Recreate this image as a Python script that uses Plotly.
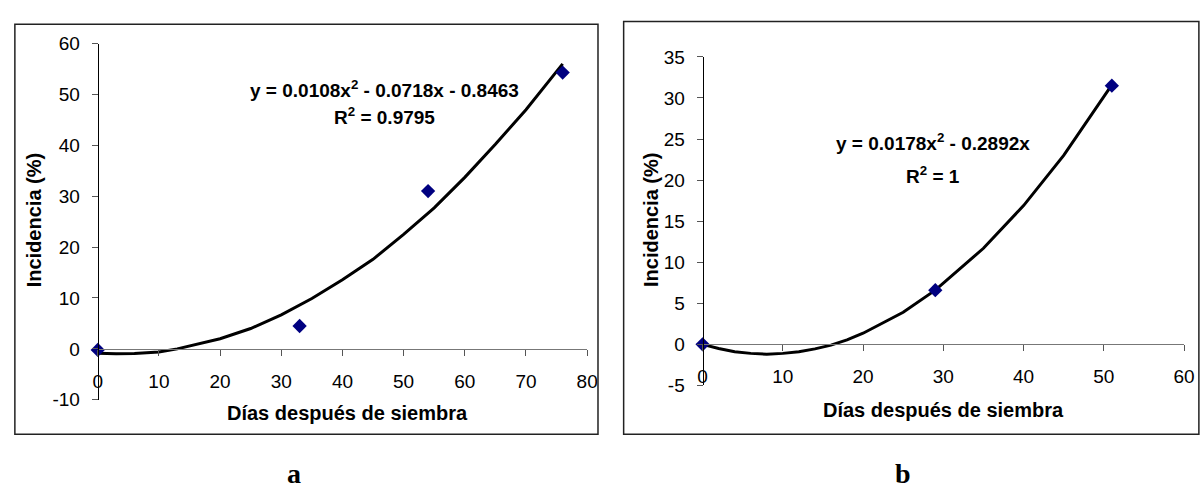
import plotly.graph_objects as go

W, H = 1201, 496

# ---- data ----
a_days = [0, 33, 54, 76]
a_incid = [-0.2, 4.5, 31.0, 54.3]
a_trend_x = [0, 3, 6, 10, 13, 16, 20, 25, 30, 35, 40, 45, 50, 55, 60, 65, 70, 76]
a_trend_y = [-0.85, -0.95, -0.9, -0.6, 0.0, 0.8, 2.0, 4.0, 6.7, 9.9, 13.6, 17.6, 22.5, 27.7, 33.7, 40.2, 47.0, 56.0]

b_days = [0, 29, 51]
b_incid = [0.0, 6.6, 31.5]
b_trend_x = [0, 2, 4, 6, 8, 10, 12, 14, 16, 18, 20, 25, 29, 35, 40, 45, 51]
b_trend_y = [0.0, -0.5, -0.9, -1.1, -1.2, -1.1, -0.9, -0.55, -0.1, 0.55, 1.35, 3.9, 6.6, 11.7, 16.9, 23.0, 31.6]

a_ticks_x = [0, 10, 20, 30, 40, 50, 60, 70, 80]
a_ticks_y = [-10, 0, 10, 20, 30, 40, 50, 60]
b_ticks_x = [0, 10, 20, 30, 40, 50, 60]
b_ticks_y = [-5, 0, 5, 10, 15, 20, 25, 30, 35]

eq_a = "<b>y = 0.0108x<sup>2</sup> - 0.0718x - 0.8463</b>"
r2_a = "<b>R<sup>2</sup> = 0.9795</b>"
eq_b = "<b>y = 0.0178x<sup>2</sup> - 0.2892x</b>"
r2_b = "<b>R<sup>2</sup> = 1</b>"
xtitle = "<b>Días después de siembra</b>"
ytitle = "<b>Incidencia (%)</b>"

FONT = "Liberation Sans, Arial, sans-serif"
SERIF = "Liberation Serif, Times New Roman, serif"
NAVY = "#000080"


def px(x):
    return x / W


def py(y):
    return 1 - y / H


def labels(vals):
    return [str(v).replace("−", "-") for v in vals]


fig = go.Figure()

fig.add_trace(go.Scatter(x=a_trend_x, y=a_trend_y, mode="lines",
                         line=dict(color="black", width=3),
                         xaxis="x", yaxis="y", showlegend=False, cliponaxis=False))
fig.add_trace(go.Scatter(x=a_days, y=a_incid, mode="markers",
                         marker=dict(symbol="diamond", size=11, color=NAVY),
                         xaxis="x", yaxis="y", showlegend=False, cliponaxis=False))
fig.add_trace(go.Scatter(x=b_trend_x, y=b_trend_y, mode="lines",
                         line=dict(color="black", width=3),
                         xaxis="x2", yaxis="y2", showlegend=False, cliponaxis=False))
fig.add_trace(go.Scatter(x=b_days, y=b_incid, mode="markers",
                         marker=dict(symbol="diamond", size=11, color=NAVY),
                         xaxis="x2", yaxis="y2", showlegend=False, cliponaxis=False))

# geometry (pixels)
a_x0, a_x1 = 94, 590
a_ytop, a_ybot = 35, 407
b_x0, b_x1 = 707, 1195
b_ytop, b_ybot = 49, 392

tickfont = dict(family=FONT, size=19, color="black")
common_x = dict(showgrid=False, zeroline=False, showline=True, linecolor="#777777",
                linewidth=1, ticks="outside", ticklen=6, tickcolor="#555555",
                tickfont=tickfont, ticklabelstandoff=9, fixedrange=True)
common_y = dict(showgrid=False, zeroline=False, showline=True, linecolor="black",
                linewidth=1, ticks="outside", ticklen=6, tickcolor="#555555",
                tickfont=tickfont, ticklabelstandoff=8, fixedrange=True)

a_dom_y = [py(a_ybot), py(a_ytop)]
b_dom_y = [py(b_ybot), py(b_ytop)]
a_zero = a_dom_y[0] + (0 - (-10)) / 70 * (a_dom_y[1] - a_dom_y[0])
b_zero = b_dom_y[0] + (0 - (-5)) / 40 * (b_dom_y[1] - b_dom_y[0])

fig.update_layout(
    width=W, height=H,
    margin=dict(l=0, r=0, t=0, b=0),
    paper_bgcolor="white", plot_bgcolor="rgba(0,0,0,0)",
    font=dict(family=FONT, color="black"),
    showlegend=False,
    xaxis=dict(domain=[px(a_x0), px(a_x1)], range=[0, 80], tickvals=a_ticks_x,
               ticktext=labels(a_ticks_x), anchor="free", position=a_zero, **common_x),
    yaxis=dict(domain=a_dom_y, range=[-10, 60], tickvals=a_ticks_y,
               ticktext=labels(a_ticks_y), anchor="free", position=px(a_x0), **common_y),
    xaxis2=dict(domain=[px(b_x0), px(b_x1)], range=[0, 60], tickvals=b_ticks_x,
                ticktext=labels(b_ticks_x), anchor="free", position=b_zero, **common_x),
    yaxis2=dict(domain=b_dom_y, range=[-5, 35], tickvals=b_ticks_y,
                ticktext=labels(b_ticks_y), anchor="free", position=px(b_x0), **common_y),
)

# panel frames
fig.add_shape(type="rect", xref="paper", yref="paper",
              x0=px(10), x1=px(601), y0=py(443), y1=py(15),
              line=dict(color="#222222", width=1.5))
fig.add_shape(type="rect", xref="paper", yref="paper",
              x0=px(627), x1=px(1210), y0=py(443), y1=py(12),
              line=dict(color="#222222", width=1.5))


def ann(text, x, y, size=20, family=FONT, angle=0):
    fig.add_annotation(text=text, x=px(x), y=py(y), xref="paper", yref="paper",
                       showarrow=False, xanchor="center", yanchor="middle",
                       textangle=angle, font=dict(family=family, size=size, color="black"))


ann(eq_a, 385, 83, size=19)
ann(r2_a, 385, 111, size=19)
ann(eq_b, 941, 138, size=19)
ann(r2_b, 941, 172, size=19)
ann(xtitle, 347, 421, size=20)
ann(xtitle, 951, 418, size=20)
ann(ytitle, 29, 220, size=20, angle=-90)
ann(ytitle, 654, 219, size=20, angle=-90)
ann("<b>a</b>", 293, 484, size=28, family=SERIF)
ann("<b>b</b>", 910, 484, size=28, family=SERIF)

fig.write_html("out.html")
